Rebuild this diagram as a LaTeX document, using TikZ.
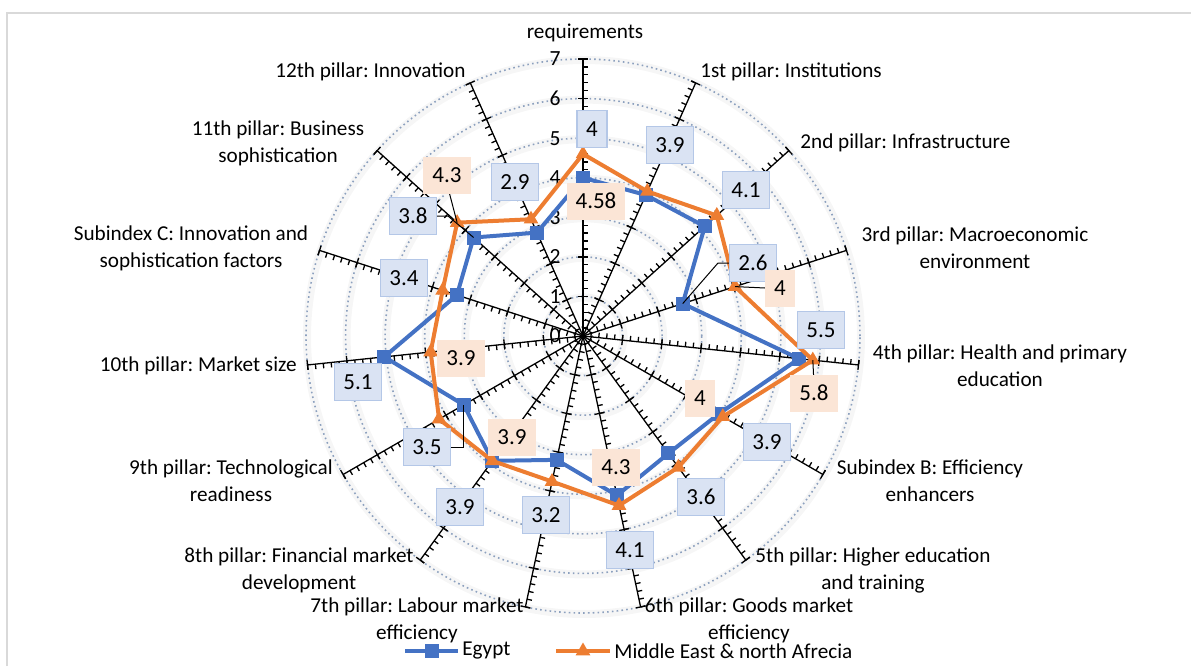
\documentclass[tikz,border=0pt]{standalone}
\usepackage{fontspec}
\setmainfont{Carlito}
\frenchspacing
\usetikzlibrary{positioning,shapes.geometric}
\definecolor{egyptblue}{RGB}{68,114,196}
\definecolor{menaorange}{RGB}{237,125,49}
\definecolor{gridblue}{RGB}{140,160,190}
\definecolor{boxblue}{RGB}{218,227,243}
\definecolor{boxblueline}{RGB}{180,199,231}
\definecolor{boxorange}{RGB}{251,229,214}
\definecolor{framegray}{RGB}{217,217,217}
\tikzset{
  cat/.style={font=\fontsize{10.6}{13.5}\selectfont, align=center, inner sep=0pt},
  numlab/.style={font=\fontsize{10.8}{13}\selectfont, inner sep=0pt},
  bluelab/.style={fill=boxblue, draw=boxblueline, line width=0.75pt, inner xsep=4.5pt,
    inner ysep=0pt, minimum height=18.5pt, font=\fontsize{11.5}{13}\selectfont},
  orangelab/.style={fill=boxorange, inner xsep=4.5pt, inner ysep=0pt,
    minimum height=18.5pt, font=\fontsize{11.5}{13}\selectfont},
  leader/.style={black, line width=0.5pt},
  spoke/.style={black, line width=0.65pt},
  gridline/.style={gridblue, line width=0.8pt, dash pattern=on 0.8pt off 1.6pt},
  glow/.style={black, opacity=0.035, line width=4pt},
  egyptline/.style={egyptblue, line width=2pt, line join=round},
  menaline/.style={menaorange, line width=2pt, line join=round},
  bsq/.style={fill=egyptblue, minimum size=7pt, inner sep=0pt},
  otri/.style={regular polygon, regular polygon sides=3, fill=menaorange,
    minimum size=8.5pt, inner sep=0pt},
}
\begin{document}
\begin{tikzpicture}[x=0.5pt,y=0.5pt]
\useasboundingbox (0,0) rectangle (1191,666);
% chart frame
\draw[framegray,line width=0.75pt] (7,0) -- (7,653) -- (1191,653);

\begin{scope}[shift={(583,330)}]
% circles
\foreach \v in {1,...,7}{
  \draw[glow] (1,-1) circle ({\v*19.785pt});
  \draw[gridline] (0,0) circle ({\v*19.785pt});
}
% spokes with ticks
\foreach \k [evaluate=\k as \a using 90-24*\k] in {0,...,14}{
  \ifnum\k=0 \def\td{-90}\else\def\td{90}\fi
  \draw[spoke] (0,0) -- (\a:277);
  \foreach \i in {1,...,35}
    \draw[spoke] (\a:{\i*7.914}) -- ++(\a+\td:5);
  \foreach \i in {1,...,7}
    \draw[spoke] (\a:{\i*39.57}) ++(\a-\td:5) -- ++(\a+\td:10);
}
% value axis numbers
\foreach \v in {0,...,7}
  \node[numlab,anchor=east] (n\v) at (-22,{\v*39.57}) {\v};
% data points
\foreach \k/\e/\m in {0/4.0/4.6, 1/3.9/4.0, 2/4.14/4.55, 3/2.65/4.04, 4/5.49/5.84,
    5/3.95/4.08, 6/3.67/4.1, 7/4.12/4.38, 8/3.2/3.76, 9/3.9/3.9, 10/3.48/4.2,
    11/5.05/3.87, 12/3.35/3.73, 13/3.72/4.28, 14/2.86/3.23}{
  \coordinate (e\k) at ({90-24*\k}:{\e*39.57});
  \coordinate (m\k) at ({90-24*\k}:{\m*39.57});
}
\end{scope}

% series
\draw[egyptline] (e0) \foreach \k in {1,...,14}{ -- (e\k)} -- cycle;
\foreach \k in {0,...,14} \node[bsq] (sq\k) at (e\k) {};
\draw[menaline] (m0) \foreach \k in {1,...,14}{ -- (m\k)} -- cycle;
\foreach \k in {0,...,14} \node[otri] (tr\k) at (m\k) {};

% category labels
\node[cat] (c0) at (585,633) {requirements};
\node[cat,anchor=west] (c1) at (700,594) {1st pillar: Institutions};
\node[cat,anchor=west] (c2) at (800,523) {2nd pillar: Infrastructure};
\node[cat] (c3) at (975,418) {3rd pillar: Macroeconomic\\environment};
\node[cat] (c4) at (1000,300) {4th pillar: Health and primary\\education};
\node[cat] (c5) at (930,185) {Subindex B: Efficiency\\enhancers};
\node[cat] (c6) at (873,96) {5th pillar: Higher education\\and training};
\node[cat] (c7) at (749,46) {6th pillar: Goods market\\efficiency};
\node[cat] (c8) at (417,46) {7th pillar: Labour market\\efficiency};
\node[cat] (c9) at (299,96) {8th pillar: Financial market\\development};
\node[cat] (c10) at (231,185) {9th pillar: Technological\\readiness};
\node[cat,anchor=east] (c11) at (297,300) {10th pillar: Market size};
\node[cat] (c12) at (191,418) {Subindex C: Innovation and\\sophistication factors};
\node[cat] (c13) at (278,523) {11th pillar: Business\\sophistication};
\node[cat,anchor=east] (c14) at (466,594) {12th pillar: Innovation};

% leaders
\draw[leader] (753,403) ++(-24,0) -- ++(-11,0) -- (e3);
\draw[leader] (780,378) ++(-15,0) -- (m3);
\draw[leader] (814,282) -- (m4);
\draw[leader] (427,219) ++(24,0) -| (e10);
\draw[leader] (413,450) ++(24,0) -- ++(11,0) -- (e13);
\draw[leader] (447,482) -- (m13);

% Egypt labels
\node[bluelab] (b0) at (592,537) {4};
\node[bluelab] (b1) at (670,521) {3.9};
\node[bluelab] (b2) at (746,476) {4.1};
\node[bluelab] (b3) at (753,403) {2.6};
\node[bluelab] (b4) at (821,336) {5.5};
\node[bluelab] (b5) at (767,224) {3.9};
\node[bluelab] (b6) at (701,169) {3.6};
\node[bluelab] (b7) at (630,116) {4.1};
\node[bluelab] (b8) at (546,151) {3.2};
\node[bluelab] (b9) at (460,159) {3.9};
\node[bluelab] (b10) at (427,219) {3.5};
\node[bluelab] (b11) at (358,284) {5.1};
\node[bluelab] (b12) at (404,388) {3.4};
\node[bluelab] (b13) at (413,450) {3.8};
\node[bluelab] (b14) at (515,484) {2.9};

% MENA labels
\node[orangelab] (o0) at (596,465) {4.58};
\node[orangelab] (o3) at (780,378) {4};
\node[orangelab] (o4) at (814,273) {5.8};
\node[orangelab] (o5) at (700,268) {4};
\node[orangelab] (o7) at (616,199) {4.3};
\node[orangelab] (o9) at (512,229) {3.9};
\node[orangelab] (o11) at (461,308) {3.9};
\node[orangelab] (o13) at (447,491) {4.3};

% legend
\coordinate (lb1) at (405,15);
\coordinate (lb2) at (458,15);
\draw[egyptline] (lb1) -- (lb2);
\node[bsq] (lbm) at (431.5,15) {};
\node[cat,anchor=west] (legE) at (462,15) {Egypt};
\coordinate (lo1) at (556,15);
\coordinate (lo2) at (610,15);
\draw[menaline] (lo1) -- (lo2);
\node[otri] (lom) at (583,15) {};
\node[cat,anchor=west] (legM) at (614,15) {Middle East \& north Afrecia};
\end{tikzpicture}
\end{document}
